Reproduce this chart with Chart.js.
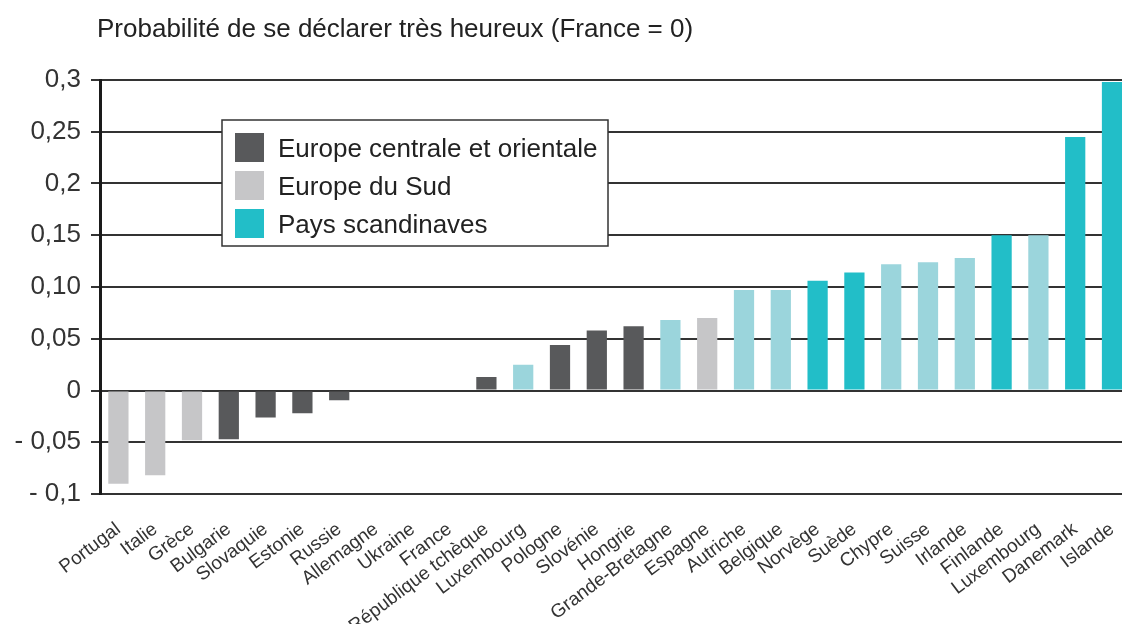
<!DOCTYPE html>
<html>
<head>
<meta charset="utf-8">
<script src="https://cdn.jsdelivr.net/npm/chart.js@4.4.1/dist/chart.umd.min.js"></script>
<style>
  html, body { margin:0; padding:0; width:1122px; height:624px; overflow:hidden; background:#fff; }
  #wrap { position:absolute; left:0; top:0; width:1140px; height:624px; }
  #title { position:absolute; left:97px; top:13px; font-family:"Liberation Sans", Arial, sans-serif; font-size:26px; color:#222; letter-spacing:0px; white-space:nowrap; }
</style>
</head>
<body>
<div id="wrap"><canvas id="c"></canvas></div>
<div id="title">Probabilité de se déclarer très heureux (France = 0)</div>
<script>
const titleText = "Probabilité de se déclarer très heureux (France = 0)";
const categories = ["Portugal","Italie","Grèce","Bulgarie","Slovaquie","Estonie","Russie","Allemagne","Ukraine","France","République tchèque","Luxembourg","Pologne","Slovénie","Hongrie","Grande-Bretagne","Espagne","Autriche","Belgique","Norvège","Suède","Chypre","Suisse","Irlande","Finlande","Luxembourg","Danemark","Islande"];
const values = [-0.090,-0.082,-0.048,-0.047,-0.026,-0.022,-0.0095,0,0,0,0.013,0.025,0.044,0.058,0.062,0.068,0.070,0.097,0.097,0.106,0.114,0.122,0.124,0.128,0.150,0.150,0.245,0.298];
const groups = ["SUD","SUD","SUD","CEO","CEO","CEO","CEO","AUT","CEO","AUT","CEO","AUT","CEO","CEO","CEO","AUT","SUD","AUT","AUT","SCA","SCA","AUT","AUT","AUT","SCA","AUT","SCA","SCA"];
const groupKeys = ["CEO","SUD","SCA","AUT"];
const groupLabels = ["Europe centrale et orientale","Europe du Sud","Pays scandinaves","Autres pays"];
const groupColors = ["#58595b","#c6c6c8","#22bec8","#9bd5dc"];
const yTickLabels = ["- 0,1","- 0,05","0","0,05","0,10","0,15","0,2","0,25","0,3"];

const datasets = groupKeys.map((g, gi) => ({
  label: groupLabels[gi],
  data: values.map((v, i) => groups[i] === g ? v : null),
  backgroundColor: groupColors[gi],
  borderWidth: 0,
  barPercentage: 0.55,
  categoryPercentage: 1.0,
  grouped: false
}));

const legendBox = {
  id: 'legendBox',
  afterDraw(chart) {
    const ctx = chart.ctx;
    const x0 = 222, y0 = 120, w = 386, h = 126;
    ctx.save();
    ctx.fillStyle = '#fff';
    ctx.fillRect(x0, y0, w, h);
    ctx.strokeStyle = '#333';
    ctx.lineWidth = 1.5;
    ctx.strokeRect(x0, y0, w, h);
    ctx.font = '26px "Liberation Sans", Arial, sans-serif';
    ctx.textBaseline = 'middle';
    for (let i = 0; i < 3; i++) {
      const ds = chart.data.datasets[i];
      const sy = 133 + i * 38;
      ctx.fillStyle = ds.backgroundColor;
      ctx.fillRect(235, sy, 29, 29);
      ctx.fillStyle = '#222';
      ctx.fillText(ds.label, 278, sy + 17);
    }
    ctx.restore();
  }
};

new Chart(document.getElementById('c'), {
  type: 'bar',
  data: { labels: categories, datasets },
  options: {
    responsive: true,
    maintainAspectRatio: false,
    animation: false,
    layout: { padding: { top: 80, left: 0, right: 9.6, bottom: 0 } },
    plugins: { legend: { display: false }, tooltip: { enabled: false }, title: { display: false } },
    scales: {
      x: {
        offset: true,
        grid: { display: false, drawTicks: false },
        border: { display: false },
        ticks: {
          autoSkip: false, maxRotation: 37, minRotation: 37, padding: 24,
          color: '#333',
          font: { family: '"Liberation Sans", Arial, sans-serif', size: 19 }
        },
        afterFit(scale) { scale.height = 130; scale.paddingRight = 0; scale.paddingLeft = 0; }
      },
      y: {
        min: -0.1, max: 0.3,
        grid: { color: '#333', lineWidth: 2, tickLength: 9, drawTicks: true },
        border: { display: true, color: '#1a1a1a', width: 3 },
        ticks: {
          stepSize: 0.05, padding: 10, color: '#333',
          font: { family: '"Liberation Sans", Arial, sans-serif', size: 26 },
          callback: (v, i) => yTickLabels[i]
        },
        afterFit(scale) { scale.width = 100; }
      }
    }
  },
  plugins: [legendBox]
});
</script>
</body>
</html>
